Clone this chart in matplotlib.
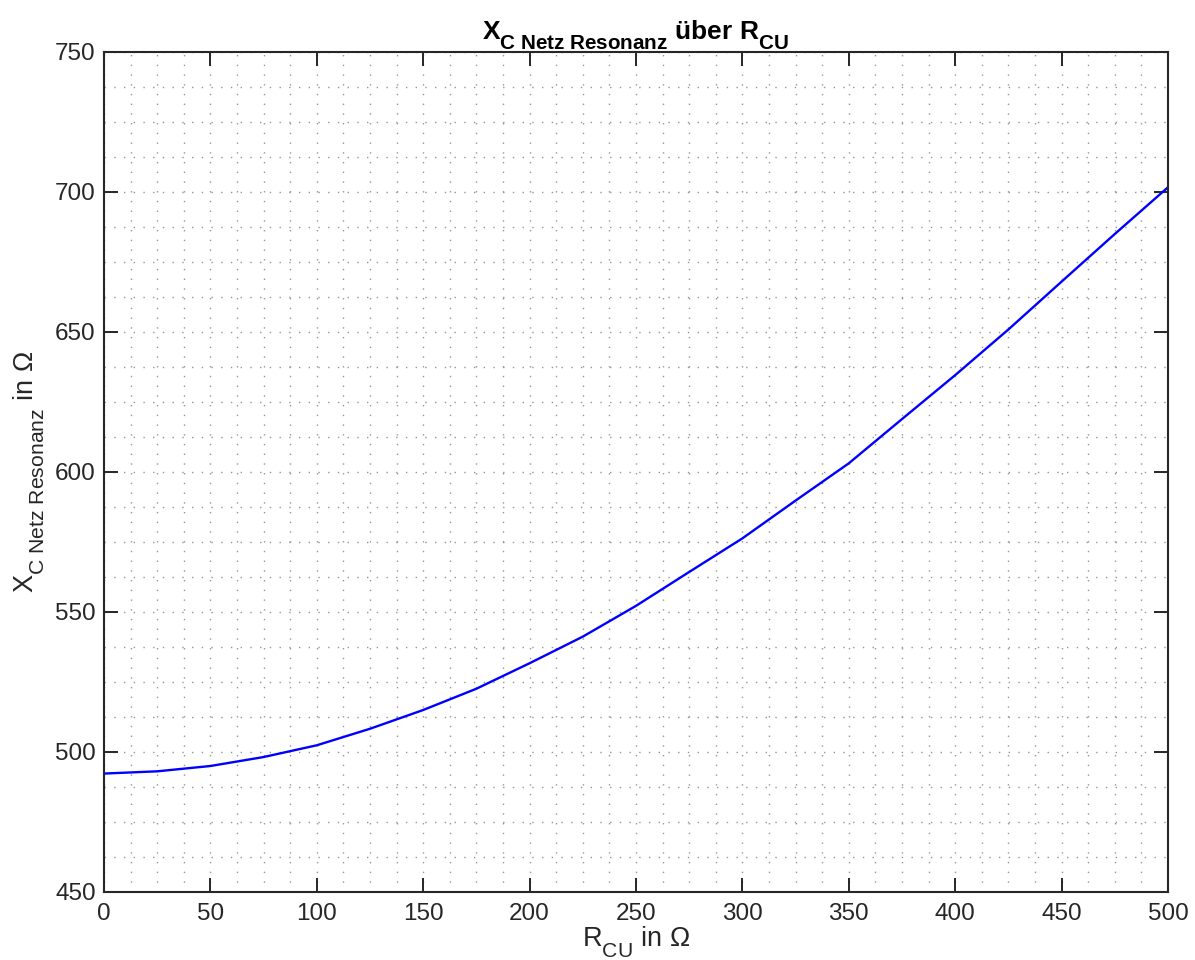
import matplotlib
matplotlib.use("Agg")
import matplotlib.pyplot as plt
from matplotlib.ticker import MultipleLocator
import matplotlib._mathtext as _mt

# MATLAB-like subscripts: slightly larger and lower
_mt.SHRINK_FACTOR = 0.78
_mt.FontConstantsBase.sub1 = 0.75
_mt.FontConstantsBase.subdrop = 0.6

plt.rcParams['font.family'] = ['Liberation Sans', 'DejaVu Sans']
plt.rcParams['mathtext.fontset'] = 'custom'
plt.rcParams['mathtext.rm'] = 'Liberation Sans'
plt.rcParams['mathtext.it'] = 'Liberation Sans'
plt.rcParams['mathtext.bf'] = 'Liberation Sans:bold'

# Data
r_cu = [0, 25, 50, 75, 100, 125, 150, 175, 200, 225, 250, 275, 300, 325, 350,
        375, 400, 425, 450, 475, 500]
xc_res = [492.3, 493.1, 495.0, 498.2, 502.4, 508.3, 515.0, 522.6, 531.7, 541.2,
          552.2, 564.3, 576.3, 589.8, 603.1, 618.9, 634.6, 650.9, 668.0, 685.0, 701.7]

x_ticks = [0, 50, 100, 150, 200, 250, 300, 350, 400, 450, 500]
y_ticks = [450, 500, 550, 600, 650, 700, 750]

fig = plt.figure(figsize=(11.95, 9.6), dpi=100)
ax = fig.add_axes([104/1195, 1-892/960, (1168-104)/1195, (892-52)/960])

ax.plot(r_cu, xc_res, color=(0, 0, 1), linewidth=1.7)

ax.set_xlim(0, 500)
ax.set_ylim(450, 750)
ax.set_xticks(x_ticks)
ax.set_yticks(y_ticks)
ax.xaxis.set_minor_locator(MultipleLocator(12.5))
ax.yaxis.set_minor_locator(MultipleLocator(12.5))

ax.grid(which='both', linestyle=(0, (1, 6)), color='#8a8a8a', linewidth=1.0, alpha=0.9)
ax.set_axisbelow(True)

ax.tick_params(which='major', direction='in', length=10, width=1.4, top=True, right=True,
               labelsize=17.5, colors='#262626')
ax.tick_params(axis='x', which='major', pad=8)
ax.tick_params(axis='y', which='major', pad=6)
ax.tick_params(which='minor', length=0, top=True, right=True)
for s in ax.spines.values():
    s.set_linewidth(1.5)
    s.set_color('#262626')

ax.set_xlabel(r'$\mathrm{R_{CU}}$ in Ω', fontsize=19.5, color='#262626', labelpad=0)
ax.set_ylabel(r'$\mathrm{X_{C\ Netz\ Resonanz}}$ in Ω', fontsize=19.5, color='#262626', labelpad=6)
ax.set_title(r'$\mathbf{X_{C\ Netz\ Resonanz}}$ über $\mathbf{R_{CU}}$', fontsize=19,
             fontweight='bold', color='black', pad=4)

fig.savefig('out.png', dpi=100)
